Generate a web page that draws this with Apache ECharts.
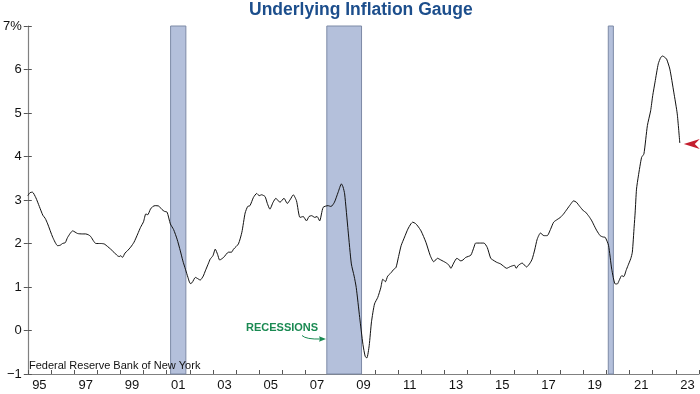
<!DOCTYPE html>
<html>
<head>
<meta charset="utf-8">
<script src="https://cdn.jsdelivr.net/npm/echarts@6/dist/echarts.min.js"></script>
<style>html,body{margin:0;padding:0;background:#fff}#c{width:700px;height:394px}</style>
</head>
<body>
<div id="c"></div>
<script>
const yearLabels = ['95','96','97','98','99','00','01','02','03','04','05','06','07','08','09','10','11','12','13','14','15','16','17','18','19','20','21','22','23'];
const yTicks = [-1,0,1,2,3,4,5,6,7];
const recessions = [[2001.17, 2001.83],[2007.92, 2009.42],[2020.08, 2020.3]];
const uigDates = [
1995.00,1995.10,1995.20,1995.35,1995.50,1995.65,1995.75,1995.86,1996.08,1996.29,1996.40,1996.50,1996.62,1996.72,1996.94,
1997.15,1997.35,1997.50,1997.62,1997.72,1997.85,1997.94,1998.15,1998.30,1998.45,1998.58,1998.72,1998.87,1998.95,1999.02,
1999.09,1999.20,1999.30,1999.45,1999.59,1999.75,1999.87,2000.00,2000.10,2000.18,2000.30,2000.40,2000.50,2000.66,2000.80,
2000.90,2001.02,2001.16,2001.30,2001.45,2001.59,2001.70,2001.81,2001.92,2002.02,2002.10,2002.24,2002.32,2002.45,2002.58,
2002.67,2002.81,2002.88,2003.00,2003.10,2003.20,2003.29,2003.46,2003.67,2003.80,2003.89,2004.10,2004.25,2004.39,2004.50,
2004.60,2004.75,2004.89,2005.00,2005.10,2005.25,2005.35,2005.46,2005.60,2005.72,2005.82,2005.90,2006.07,2006.21,2006.35,
2006.47,2006.61,2006.76,2006.90,2007.04,2007.15,2007.26,2007.40,2007.50,2007.61,2007.76,2007.97,2008.10,2008.25,2008.41,
2008.55,2008.62,2008.69,2008.84,2008.98,2009.10,2009.19,2009.34,2009.48,2009.58,2009.65,2009.75,2009.85,2009.98,2010.12,
2010.25,2010.34,2010.45,2010.55,2010.70,2010.80,2010.91,2011.02,2011.13,2011.28,2011.42,2011.55,2011.63,2011.75,2011.85,
2011.99,2012.20,2012.39,2012.54,2012.70,2012.85,2013.06,2013.20,2013.28,2013.40,2013.54,2013.71,2013.80,2013.92,2014.14,
2014.28,2014.35,2014.55,2014.71,2014.85,2015.00,2015.10,2015.25,2015.43,2015.55,2015.69,2015.85,2016.03,2016.10,2016.20,
2016.36,2016.55,2016.70,2016.79,2016.90,2017.01,2017.15,2017.30,2017.44,2017.58,2017.72,2017.87,2018.01,2018.15,2018.30,
2018.45,2018.58,2018.70,2018.85,2019.01,2019.10,2019.25,2019.37,2019.50,2019.59,2019.73,2019.85,2019.95,2020.09,2020.23,
2020.38,2020.47,2020.55,2020.66,2020.75,2020.85,2020.93,2021.05,2021.12,2021.20,2021.24,2021.30,2021.38,2021.52,2021.62,
2021.77,2021.91,2022.00,2022.10,2022.24,2022.35,2022.43,2022.52,2022.60,2022.74,2022.91,2023.06,2023.17
];
const uigValues = [
3.10,3.17,3.18,3.05,2.85,2.65,2.58,2.45,2.14,1.95,1.96,2.00,2.02,2.14,2.29,
2.23,2.22,2.22,2.20,2.16,2.05,2.00,2.00,1.99,1.93,1.87,1.80,1.72,1.70,1.72,
1.68,1.78,1.83,1.92,2.03,2.22,2.37,2.50,2.68,2.66,2.79,2.85,2.87,2.86,2.78,
2.74,2.72,2.45,2.32,2.10,1.83,1.60,1.41,1.22,1.08,1.10,1.22,1.20,1.16,1.25,
1.37,1.55,1.64,1.72,1.87,1.75,1.62,1.68,1.80,1.80,1.87,1.99,2.26,2.70,2.85,
2.87,3.06,3.15,3.10,3.12,3.08,2.92,2.79,2.95,3.04,2.98,2.95,3.04,2.92,3.02,
3.12,2.98,2.60,2.62,2.52,2.62,2.64,2.60,2.62,2.52,2.83,2.87,2.85,2.95,3.18,
3.37,3.30,3.14,2.29,1.53,1.25,0.99,0.30,-0.32,-0.60,-0.63,-0.35,0.20,0.61,0.76,
0.98,1.18,1.12,1.25,1.33,1.40,1.45,1.70,1.95,2.15,2.33,2.45,2.49,2.46,2.40,
2.29,2.03,1.72,1.58,1.66,1.62,1.56,1.50,1.43,1.55,1.66,1.60,1.62,1.68,1.73,
1.92,2.01,2.01,2.01,1.91,1.66,1.62,1.57,1.53,1.48,1.43,1.47,1.50,1.43,1.50,
1.55,1.46,1.55,1.64,1.85,2.10,2.24,2.18,2.18,2.32,2.49,2.55,2.60,2.68,2.79,
2.90,2.98,2.95,2.85,2.75,2.72,2.62,2.52,2.38,2.29,2.18,2.15,2.14,1.96,1.41,
1.07,1.07,1.15,1.26,1.24,1.38,1.49,1.65,1.80,2.40,2.70,3.25,3.55,3.98,4.06,
4.71,5.05,5.40,5.71,6.13,6.28,6.31,6.28,6.24,6.01,5.48,4.98,4.31
];

const FONT = "'Liberation Sans', Arial, Helvetica, sans-serif";
const lineData = uigDates.map((d, i) => [d, uigValues[i]]);
const lastPoint = lineData[lineData.length - 1];

const chart = echarts.init(document.getElementById('c'), null, {renderer: 'canvas'});
chart.setOption({
  animation: false,
  backgroundColor: '#fff',
  title: {
    text: 'Underlying Inflation Gauge',
    left: 249, top: 1, padding: 0,
    textStyle: {color: '#1c4e8c', fontSize: 17.5, fontWeight: 'bold', fontFamily: FONT}
  },
  grid: {left: 25, right: 1, top: 26, bottom: 20, containLabel: false},
  xAxis: [
    {
      type: 'category', data: yearLabels, boundaryGap: true, position: 'bottom',
      axisLine: {show: true, onZero: false, lineStyle: {color: '#808080', width: 1.2}},
      axisTick: {show: true, inside: true, length: 4, interval: 0, lineStyle: {color: '#555'}},
      axisLabel: {interval: 1, color: '#111', fontSize: 13, fontFamily: FONT, margin: 5},
      splitLine: {show: false}
    },
    {type: 'value', min: 1995, max: 2024, show: false}
  ],
  yAxis: [
    {
      type: 'value', min: -1, max: 7, interval: 1, position: 'left',
      axisLine: {show: true, onZero: false, lineStyle: {color: '#808080', width: 1.2}},
      axisTick: {show: true, inside: false, length: 4, lineStyle: {color: '#555'}},
      axisLabel: {color: '#111', fontSize: 13, fontFamily: FONT, margin: 6,
        formatter: v => v === 7 ? '7%' : (v < 0 ? '\u2212' + Math.abs(v) : String(v))},
      splitLine: {show: false}
    },
    {
      type: 'value', min: -1, max: 7, interval: 1, position: 'left',
      axisLine: {show: false, onZero: false},
      axisTick: {show: true, inside: true, length: 4, lineStyle: {color: '#555'}},
      axisLabel: {show: false},
      splitLine: {show: false}
    }
  ],
  series: [{
    type: 'line', xAxisIndex: 1, yAxisIndex: 0,
    data: lineData, showSymbol: false, smooth: 0.2,
    lineStyle: {color: '#111', width: 1},
    z: 5,
    markArea: {
      silent: true,
      itemStyle: {color: '#b4c0db', borderColor: '#7d8aa6', borderWidth: 1},
      data: recessions.map(r => [{xAxis: r[0]}, {xAxis: r[1]}])
    },
    markPoint: {
      silent: true,
      symbol: 'path://M0,5 L16,0 L11,5 L16,10 Z',
      symbolSize: [16, 10],
      symbolOffset: [12, 1],
      itemStyle: {color: '#c41e2e'},
      label: {show: false},
      data: [{coord: lastPoint}]
    }
  }],
  graphic: [
    {type: 'text', left: 29, top: 360, z: 100,
      style: {text: 'Federal Reserve Bank of New York', fill: '#111', font: '11px ' + FONT}},
    {type: 'text', left: 246, top: 322, z: 100,
      style: {text: 'RECESSIONS', fill: '#1a8a52', font: 'bold 11px ' + FONT}},
    {type: 'bezierCurve', z: 100, shape: {x1: 302, y1: 335.5, x2: 321, y2: 339, cpx1: 306, cpy1: 339.5},
      style: {stroke: '#1a8a52', lineWidth: 1, fill: null}},
    {type: 'polygon', z: 100, shape: {points: [[326, 339], [319, 336.3], [320, 339], [319, 341.7]]},
      style: {fill: '#1a8a52'}}
  ]
});
</script>
</body>
</html>
